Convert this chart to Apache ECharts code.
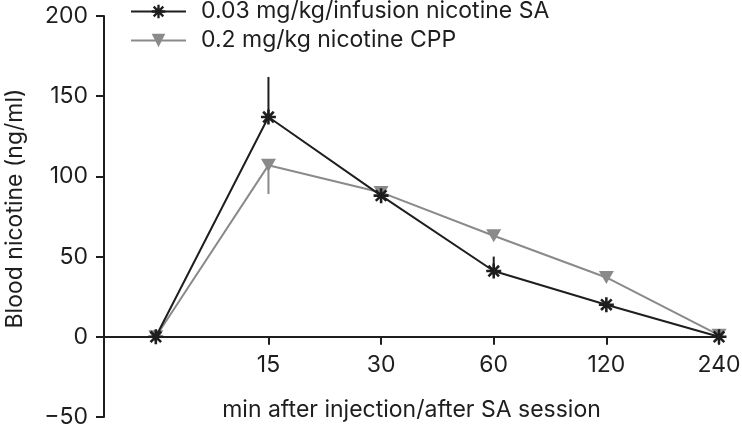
<!DOCTYPE html>
<html>
<head>
<meta charset="utf-8">
<script src="https://cdn.jsdelivr.net/npm/echarts@6/dist/echarts.min.js"></script>
<style>
html,body{margin:0;padding:0;background:#fff;}
#c{width:742px;height:427px;}
</style>
</head>
<body>
<div id="c"></div>
<script>
// ---- data ----
var xLabels = ['0', '15', '30', '60', '120', '240'];
var saName = '0.03 mg/kg/infusion nicotine SA';
var cppName = '0.2 mg/kg nicotine CPP';
var saValues = [0, 137, 88, 41, 20, 0];
var saErrUp = [0, 25, 0, 9, 0, 0];
var cppValues = [0, 107, 90, 63, 37, 1];
var cppErrDown = [0, 18, 0, 0, 0, 0];
var yTicks = [-50, 0, 50, 100, 150, 200];

// ---- style helpers ----
function asteriskPath() {
  var L = 10, W = 1.7, parts = [];
  [0, 45, 90, 135].forEach(function (deg) {
    var a = deg * Math.PI / 180, c = Math.cos(a), s = Math.sin(a);
    var pts = [[-L, -W], [L, -W], [L, W], [-L, W]].map(function (p) {
      return [(p[0] * c - p[1] * s).toFixed(3), (p[0] * s + p[1] * c).toFixed(3)];
    });
    parts.push('M' + pts.map(function (p) { return p.join(' '); }).join(' L') + ' Z');
  });
  return 'path://' + parts.join(' ');
}
var BLACK = '#1e1e1e', GREY = '#8a8a8a';
var FONT = 'Inter, Liberation Sans, Arial, sans-serif';
var FS = 23;

function pairs(vals) { return vals.map(function (v, i) { return [i, v]; }); }
function errData(vals, errs, dir) {
  var out = [];
  vals.forEach(function (v, i) { if (errs[i] > 0) out.push([i, v, v + dir * errs[i]]); });
  return out;
}
function errSeries(data, color) {
  return {
    type: 'custom', silent: true, z: 1,
    renderItem: function (params, api) {
      var p1 = api.coord([api.value(0), api.value(1)]);
      var p2 = api.coord([api.value(0), api.value(2)]);
      return { type: 'line', shape: { x1: p1[0], y1: p1[1], x2: p2[0], y2: p2[1] },
               style: { stroke: color, lineWidth: 2 } };
    },
    encode: { x: 0, y: [1, 2] },
    data: data
  };
}

var chart = echarts.init(document.getElementById('c'), null, { renderer: 'canvas' });
chart.setOption({
  animation: false,
  textStyle: { fontFamily: FONT },
  grid: { left: 104, right: 23, top: 16, bottom: 10, containLabel: false, outerBoundsMode: 'none' },
  legend: {
    orient: 'vertical', left: 130, top: 0, padding: 0, itemWidth: 55, itemHeight: 17, itemGap: 6,
    textStyle: { fontSize: FS, color: BLACK, fontFamily: FONT, padding: [0, 0, 0, 10] },
    data: [saName, cppName]
  },
  xAxis: {
    type: 'value', min: -0.46, max: 5,
    name: 'min after injection/after SA session', nameLocation: 'middle', nameGap: -18,
    nameTextStyle: { fontSize: FS, color: BLACK, fontFamily: FONT },
    axisLine: { onZero: true, lineStyle: { color: BLACK, width: 2 } },
    axisTick: { show: true, length: 8, customValues: [1, 2, 3, 4, 5], lineStyle: { color: BLACK, width: 2 } },
    axisLabel: { customValues: [1, 2, 3, 4, 5], fontSize: FS, color: BLACK, margin: -63,
      formatter: function (v) { return xLabels[Math.round(v)]; } },
    splitLine: { show: false }
  },
  yAxis: {
    type: 'value', min: yTicks[0], max: yTicks[yTicks.length - 1], interval: 50,
    name: 'Blood nicotine (ng/ml)', nameLocation: 'middle', nameGap: 77,
    nameTextStyle: { fontSize: FS, color: BLACK, fontFamily: FONT, padding: [0, 0, 0, 16] },
    axisLine: { show: true, onZero: false, lineStyle: { color: BLACK, width: 2 } },
    axisTick: { show: true, length: 8, lineStyle: { color: BLACK, width: 2 } },
    axisLabel: { fontSize: FS, color: BLACK, margin: 16,
      formatter: function (v) { return v < 0 ? '\u2212' + Math.abs(v) : String(v); } },
    splitLine: { show: false }
  },
  series: [
    errSeries(errData(saValues, saErrUp, 1), BLACK),
    errSeries(errData(cppValues, cppErrDown, -1), GREY),
    {
      name: cppName, type: 'line', data: pairs(cppValues), z: 2,
      symbol: 'triangle', symbolRotate: 180, symbolSize: [15, 13],
      lineStyle: { color: GREY, width: 2 }, itemStyle: { color: GREY }
    },
    {
      name: saName, type: 'line', data: pairs(saValues), z: 3,
      symbol: asteriskPath(), symbolSize: 15,
      lineStyle: { color: BLACK, width: 2 }, itemStyle: { color: BLACK }
    }
  ]
});
</script>
</body>
</html>
